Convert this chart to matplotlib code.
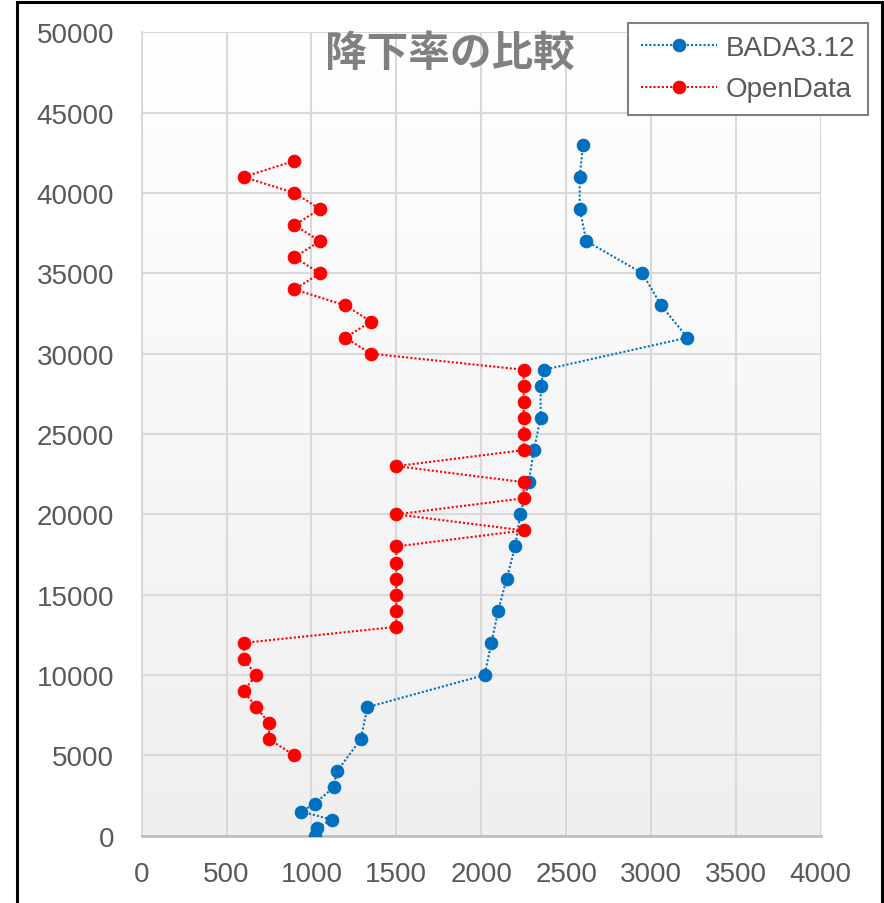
import matplotlib.pyplot as plt
import matplotlib.patches as patches
import numpy as np
from matplotlib.colors import LinearSegmentedColormap

# 降下率 [ft/min] vs 高度 [ft]
bada_alt = [43000, 41000, 39000, 37000, 35000, 33000, 31000, 29000, 28000, 26000,
            24000, 22000, 20000, 18000, 16000, 14000, 12000, 10000, 8000, 6000,
            4000, 3000, 2000, 1500, 1000, 500, 0]
bada_rate = [2600, 2580, 2580, 2620, 2950, 3060, 3215, 2370, 2350, 2350,
             2310, 2280, 2230, 2200, 2150, 2100, 2060, 2020, 1330, 1290,
             1150, 1130, 1020, 940, 1120, 1035, 1020]

open_alt = [42000, 41000, 40000, 39000, 38000, 37000, 36000, 35000, 34000, 33000,
            32000, 31000, 30000, 29000, 28000, 27000, 26000, 25000, 24000, 23000,
            22000, 21000, 20000, 19000, 18000, 17000, 16000, 15000, 14000, 13000,
            12000, 11000, 10000, 9000, 8000, 7000, 6000, 5000]
open_rate = [900, 600, 900, 1050, 900, 1050, 900, 1050, 900, 1200,
             1350, 1200, 1350, 2250, 2250, 2250, 2250, 2250, 2250, 1500,
             2250, 2250, 1500, 2250, 1500, 1500, 1500, 1500, 1500, 1500,
             600, 600, 675, 600, 675, 750, 750, 900]

x_ticks = [0, 500, 1000, 1500, 2000, 2500, 3000, 3500, 4000]
y_ticks = [0, 5000, 10000, 15000, 20000, 25000, 30000, 35000, 40000, 45000, 50000]

plt.rcParams['font.family'] = ['Liberation Sans', 'DejaVu Sans']

fig = plt.figure(figsize=(8.84, 9.04), dpi=100)
ax = fig.add_axes([0.1603, 0.07445, 0.7681, 0.8887])

# 背景のグラデーション（上が白、下が薄いグレー）
grad = np.linspace(0, 1, 256).reshape(-1, 1)
cmap = LinearSegmentedColormap.from_list('bg', ['#ffffff', '#efefef'])
ax.imshow(grad, extent=[0, 4000, 0, 50000], aspect='auto', cmap=cmap,
          origin='upper', zorder=0)

ax.plot(bada_rate, bada_alt, color='#0070c0', linestyle=(0, (1, 1)), linewidth=1.5,
        marker='o', markersize=9, markeredgecolor='#0070c0', markeredgewidth=0.8,
        label='BADA3.12', zorder=3)
ax.plot(open_rate, open_alt, color='#ff0000', linestyle=(0, (1, 1)), linewidth=1.5,
        marker='o', markersize=9, markeredgecolor='#ff0000', markeredgewidth=0.8,
        label='OpenData', zorder=4)

ax.set_xlim(0, 4000)
ax.set_ylim(0, 50000)
ax.set_xticks(x_ticks)
ax.set_yticks(y_ticks)
ax.tick_params(length=0, labelsize=20, labelcolor='#595959')
ax.tick_params(axis='y', pad=20)
ax.tick_params(axis='x', pad=18)
ax.grid(True, color='#d9d9d9', linewidth=1.5, zorder=1)
ax.set_axisbelow(True)

for side in ['top', 'right']:
    ax.spines[side].set_visible(False)
ax.spines['left'].set_color('#d9d9d9')
ax.spines['left'].set_linewidth(1.5)
ax.spines['bottom'].set_color('#bfbfbf')
ax.spines['bottom'].set_linewidth(2)

fig.text(0.509, 0.941, '降下率の比較', fontsize=30, color='#808080',
         family=['Noto Sans CJK JP', 'DejaVu Sans'], fontweight='bold',
         ha='center', va='center')

leg = fig.legend(loc='upper right', bbox_to_anchor=(867.7 / 884, 1 - 23.5 / 904),
                 fontsize=20, frameon=True, fancybox=False, framealpha=1,
                 handlelength=2.75, handletextpad=0.3, borderpad=0.45,
                 labelspacing=0.55, borderaxespad=0)
leg.get_frame().set_edgecolor('#808080')
leg.get_frame().set_linewidth(1.5)
for t in leg.get_texts():
    t.set_color('#595959')

# 外枠
fig.add_artist(patches.Rectangle((16.7 / 884, -0.05), 865 / 884, 1.05 - 3.3 / 904,
                                 transform=fig.transFigure, fill=False,
                                 edgecolor='black', linewidth=2.2))

fig.savefig('out.png', dpi=100)
